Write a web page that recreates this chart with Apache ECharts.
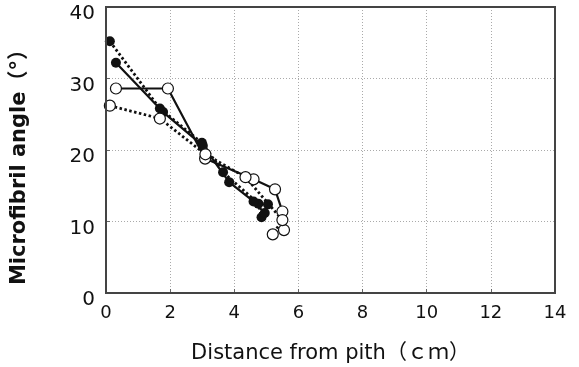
<!DOCTYPE html>
<html><head><meta charset="utf-8">
<script src="https://cdn.jsdelivr.net/npm/echarts@6/dist/echarts.min.js"></script>
<style>html,body{margin:0;padding:0;background:#fff}#c{width:579px;height:367px}</style>
</head><body><div id="c"></div>
<script>
// Filled circles, dotted line
const filledDottedX = [0.12, 1.68, 2.99, 3.65, 4.75, 4.85];
const filledDottedY = [35.2, 25.8, 21.0, 16.9, 12.5, 10.6];
// Filled circles, solid line
const filledSolidX = [0.31, 1.78, 3.02, 3.84, 4.6, 4.95, 5.05];
const filledSolidY = [32.2, 25.3, 20.6, 15.5, 12.8, 11.2, 12.4];
// Open circles, solid line
const openSolidX = [0.31, 1.93, 3.09, 4.6, 5.27, 5.5, 5.55];
const openSolidY = [28.6, 28.6, 18.8, 15.9, 14.5, 11.4, 8.8];
// Open circles, dotted line
const openDottedX = [0.12, 1.68, 3.1, 4.35, 5.5, 5.2];
const openDottedY = [26.2, 24.4, 19.4, 16.2, 10.2, 8.2];

const xTicks = [0, 2, 4, 6, 8, 10, 12, 14];
const yTicks = [0, 10, 20, 30, 40];

const pairs = (xs, ys) => xs.map((x, i) => [x, ys[i]]);
const font = 'DejaVu Sans, Noto Sans CJK JP';

const chart = echarts.init(document.getElementById('c'));
const lineSeries = (name, xs, ys, dotted, open) => ({
  name, type: 'line', data: pairs(xs, ys),
  symbol: 'circle', symbolSize: open ? 11 : 10,
  lineStyle: {color: '#111', width: dotted ? 2.8 : 2.2, type: dotted ? [2.5, 2.5] : 'solid'},
  itemStyle: {color: open ? '#fff' : '#111', borderColor: '#111', borderWidth: open ? 1.2 : 0},
  animation: false, z: open ? 3 : 2
});
chart.setOption({
  animation: false,
  grid: {left: 106, right: 24, top: 7, bottom: 74, containLabel: false, outerBoundsMode: 'none'},
  xAxis: {
    type: 'value', min: 0, max: 14, interval: 2,
    name: 'Distance from pith（ｃｍ）', nameLocation: 'middle', nameGap: 50,
    nameTextStyle: {fontFamily: font, fontSize: 21, color: '#111'},
    axisLine: {show: true, lineStyle: {color: '#444', width: 2}},
    axisTick: {show: true, inside: true, length: 4, lineStyle: {color: '#666'}},
    axisLabel: {fontFamily: font, fontSize: 18, color: '#111', margin: 11,
      formatter: v => xTicks.includes(v) ? String(v) : ''},
    splitLine: {show: true, lineStyle: {color: '#aaa', type: [1, 2], width: 1}}
  },
  yAxis: {
    type: 'value', min: 0, max: 40, interval: 10,
    name: 'Microfibril angle（°）', nameLocation: 'middle', nameGap: 76,
    nameTextStyle: {fontFamily: font, fontSize: 21, fontWeight: 'bold', color: '#111', padding: [0, 24, 0, 0]},
    axisLine: {show: true, lineStyle: {color: '#444', width: 2}},
    axisTick: {show: true, inside: true, length: 4, lineStyle: {color: '#666'}},
    axisLabel: {fontFamily: font, fontSize: 20, color: '#111', margin: 11,
      verticalAlign: 'top', lineHeight: 14,
      formatter: v => yTicks.includes(v) ? String(v) : ''},
    splitLine: {show: true, lineStyle: {color: '#aaa', type: [1, 2], width: 1}}
  },
  series: [
    lineSeries('filledDotted', filledDottedX, filledDottedY, true, false),
    lineSeries('filledSolid', filledSolidX, filledSolidY, false, false),
    lineSeries('openSolid', openSolidX, openSolidY, false, true),
    lineSeries('openDotted', openDottedX, openDottedY, true, true)
  ],
  graphic: [{type: 'rect', shape: {x: 106, y: 7, width: 449, height: 286}, style: {fill: 'none', stroke: '#444', lineWidth: 2}, z: 10, silent: true}]
});
</script></body></html>
